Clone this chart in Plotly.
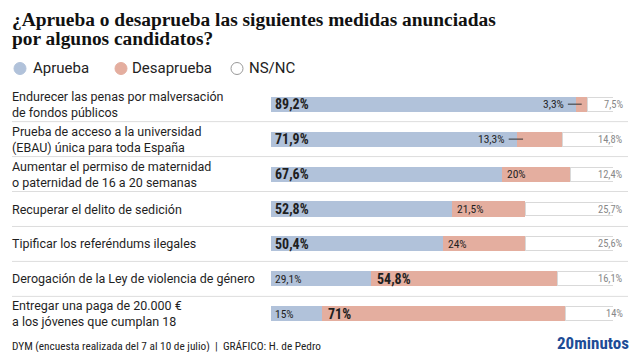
import plotly.graph_objects as go

categories = [
    "Endurecer las penas por malversación<br>de fondos públicos",
    "Prueba de acceso a la universidad<br>(EBAU) única para toda España",
    "Aumentar el permiso de maternidad<br>o paternidad de 16 a 20 semanas",
    "Recuperar el delito de sedición",
    "Tipificar los referéndums ilegales",
    "Derogación de la Ley de violencia de género",
    "Entregar una paga de 20.000 €<br>a los jóvenes que cumplan 18",
]
aprueba = [89.2, 71.9, 67.6, 52.8, 50.4, 29.1, 15]
desaprueba = [3.3, 13.3, 20, 21.5, 24, 54.8, 71]
nsnc = [7.5, 14.8, 12.4, 25.7, 25.6, 16.1, 14]

BLUE = "#b1c2da"
PINK = "#e4ae9f"
TXT = "#1f1f1f"
NARROW = "Liberation Sans Narrow, Roboto Condensed, Roboto, sans-serif"
SANS = "Roboto, Liberation Sans, sans-serif"

# page body has an 8px margin: figure is sized to fit exactly inside the window
OFF = 8
W, H = 640 - 2 * OFF, 360 - 2 * OFF
def px(x):
    return (x - OFF) / W
def py(y):
    return 1 - (y - OFF) / H

def fmt(v):
    return f"{v:g}".replace(".", ",") + "%"

rows = list(range(len(categories)))

fig = go.Figure()
fig.add_trace(go.Bar(y=rows, x=aprueba, orientation="h", marker=dict(color=BLUE, line=dict(width=0)),
                     width=0.43, hoverinfo="skip"))
fig.add_trace(go.Bar(y=rows, x=desaprueba, orientation="h", marker=dict(color=PINK, line=dict(width=0)),
                     width=0.43, hoverinfo="skip"))
fig.add_trace(go.Bar(y=rows, x=nsnc, orientation="h", marker=dict(color="white", line=dict(color="#d9d9d9", width=1)),
                     width=0.40, hoverinfo="skip"))

ann = []
shapes = []
for i in rows:
    a, d, n = aprueba[i], desaprueba[i], nsnc[i]
    ann.append(dict(x=px(10), y=i, xref="paper", yref="y", xanchor="left", yanchor="middle",
                    text=categories[i], showarrow=False, align="left",
                    font=dict(family=SANS, size=12.5, color=TXT)))
    a_big = a >= d
    ann.append(dict(x=0, y=i, xref="x", yref="y", xanchor="left", yanchor="middle", xshift=2,
                    text=(f"<b>{fmt(a)}</b>" if a_big else fmt(a)), showarrow=False,
                    font=dict(family=NARROW, size=14 if a_big else 11.5, color=TXT)))
    if d >= 15:
        ann.append(dict(x=a, y=i, xref="x", yref="y", xanchor="left", yanchor="middle", xshift=3 if a_big else 4,
                        text=(fmt(d) if a_big else f"<b>{fmt(d)}</b>"), showarrow=False,
                        font=dict(family=NARROW, size=11.5 if a_big else 14, color=TXT)))
    else:
        ann.append(dict(x=a - 3, y=i, xref="x", yref="y", xanchor="right", yanchor="middle",
                        text=fmt(d), showarrow=False,
                        font=dict(family=NARROW, size=11.5, color=TXT)))
        shapes.append(dict(type="line", xref="x", yref="y", x0=a - 2.4, x1=a + min(d / 2, 1.8), y0=i, y1=i,
                           line=dict(color="#333333", width=1)))
    ann.append(dict(x=px(625), y=i, xref="paper", yref="y", xanchor="right", yanchor="middle",
                    text=fmt(n), showarrow=False,
                    font=dict(family=NARROW, size=10.5, color="#888888")))
    if i < len(categories) - 1:
        shapes.append(dict(type="line", xref="paper", yref="y", x0=px(12), x1=px(628), y0=i + 0.5, y1=i + 0.5,
                           line=dict(color="#dddddd", width=1)))

# title
for txt, yy in [("<b>¿Aprueba o desaprueba las siguientes medidas anunciadas</b>", 19),
                ("<b>por algunos candidatos?</b>", 39)]:
    ann.append(dict(x=px(10), y=py(yy), xref="paper", yref="paper", xanchor="left", yanchor="middle",
                    text=txt, showarrow=False,
                    font=dict(family="Liberation Serif, serif", size=19.4, color="#111111")))

# legend
leg = [("Aprueba", BLUE, BLUE, 20, 31), ("Desaprueba", PINK, PINK, 121, 130), ("NS/NC", "white", "#999999", 237, 247)]
for name, fc, lc, cx, tx in leg:
    shapes.append(dict(type="circle", xref="paper", yref="paper", x0=px(cx - 6), x1=px(cx + 6),
                       y0=py(68.5 + 6), y1=py(68.5 - 6), fillcolor=fc, line=dict(color=lc, width=1)))
    ann.append(dict(x=px(tx), y=py(68), xref="paper", yref="paper", xanchor="left", yanchor="middle",
                    text=name, showarrow=False, font=dict(family=SANS, size=15, color="#222222")))

# footer
ann.append(dict(x=px(10), y=py(346), xref="paper", yref="paper", xanchor="left", yanchor="middle",
                text="DYM (encuesta realizada del 7 al 10 de julio)  |  GRÁFICO: H. de Pedro", showarrow=False,
                font=dict(family=NARROW, size=11.3, color="#222222")))
ann.append(dict(x=px(630), y=py(343), xref="paper", yref="paper", xanchor="right", yanchor="middle",
                text="<b>20minutos</b>", showarrow=False, borderpad=0,
                font=dict(family=NARROW, size=17, color="#1d4c96")))

fig.update_layout(
    width=W, height=H, barmode="stack", showlegend=False,
    margin=dict(l=0, r=0, t=0, b=0),
    paper_bgcolor="white", plot_bgcolor="white",
    xaxis=dict(domain=[px(271), px(613)], range=[0, 100], visible=False, fixedrange=True),
    yaxis=dict(domain=[py(331.3), py(86.7)], range=[6.5, -0.5], visible=False, fixedrange=True),
    annotations=ann, shapes=shapes,
)
fig.write_html("out.html")
